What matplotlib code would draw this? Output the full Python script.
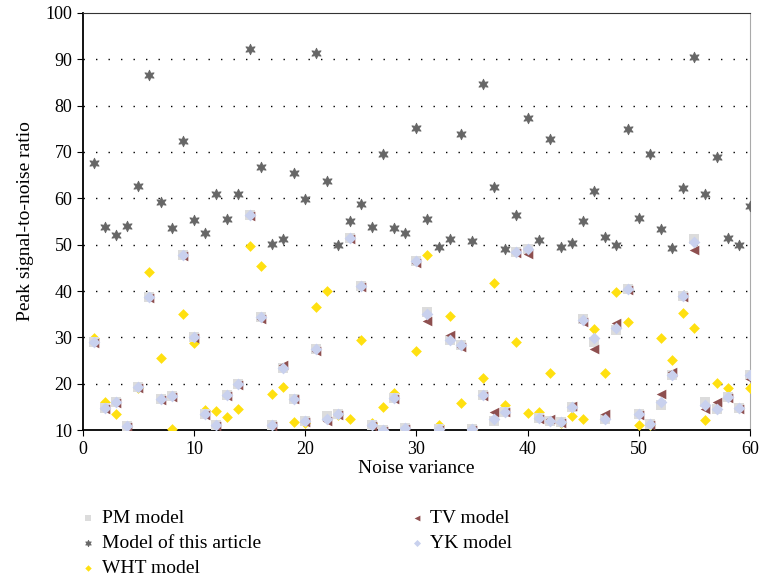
import numpy as np
import matplotlib
matplotlib.use("Agg")
from matplotlib import pyplot as plt

plt.rcParams['font.family'] = ['Liberation Serif', 'DejaVu Serif']

# noise variance 1..60
x = np.arange(1, 61)

# Model of this article
ours = [67.5, 53.8, 52.0, 54.0, 62.7, 86.5, 59.3, 53.5, 72.3, 55.3,
        52.6, 61.0, 55.5, 61.0, 92.3, 66.7, 50.2, 51.2, 65.5, 59.8,
        91.3, 63.7, 50.0, 55.0, 58.7, 53.7, 69.6, 53.6, 52.5, 75.2,
        55.5, 49.5, 51.3, 73.9, 50.8, 84.7, 62.4, 49.0, 56.3, 77.3,
        50.9, 72.8, 49.4, 50.4, 55.0, 61.5, 51.6, 49.9, 75.0, 55.8,
        69.5, 53.3, 49.2, 62.3, 90.5, 61.0, 68.8, 51.5, 50.0, 58.4]

wht = [29.8, 16.0, 13.5, 10.8, 19.0, 44.2, 25.5, 10.3, 35.0, 28.8,
       14.3, 14.2, 12.8, 14.5, 49.8, 45.3, 17.8, 19.3, 11.7, 11.5,
       36.5, 40.0, 13.3, 12.3, 29.5, 11.5, 14.9, 18.0, 10.5, 27.0,
       47.8, 11.2, 34.7, 15.8, 10.0, 21.2, 41.8, 15.5, 29.0, 13.7,
       13.8, 22.3, 11.6, 13.0, 12.5, 31.8, 22.3, 39.7, 33.3, 11.2,
       11.2, 29.8, 25.2, 35.3, 32.0, 12.2, 20.2, 19.0, 14.8, 19.0]

yk = [29.0, 14.7, 16.0, 10.8, 19.2, 38.7, 16.7, 17.3, 47.8, 30.0,
      13.4, 11.0, 17.5, 20.0, 56.3, 34.5, 11.0, 23.3, 16.8, 12.0,
      27.5, 12.5, 13.5, 51.5, 41.0, 11.0, 10.0, 17.0, 10.5, 46.5,
      35.0, 10.2, 29.5, 28.3, 10.2, 17.5, 12.5, 14.0, 48.5, 49.0,
      12.7, 12.0, 11.7, 14.9, 33.8, 29.8, 12.5, 32.0, 40.4, 13.5,
      11.3, 16.0, 21.8, 39.0, 50.5, 15.5, 14.5, 17.2, 14.8, 21.8]

tv = [28.8, 14.5, 15.8, 10.6, 19.0, 38.5, 16.5, 17.1, 47.6, 29.8,
      13.2, 10.8, 17.3, 19.8, 56.1, 34.0, 10.8, 24.0, 16.6, 11.8,
      27.0, 12.0, 13.3, 51.3, 40.8, 10.8, 9.9, 16.8, 10.3, 46.0,
      33.5, 10.0, 30.5, 28.0, 10.0, 17.3, 14.0, 13.8, 48.3, 48.0,
      12.5, 12.5, 11.5, 15.3, 33.3, 27.5, 13.5, 33.2, 40.2, 13.3,
      11.1, 17.8, 22.5, 38.8, 48.8, 14.5, 16.0, 17.0, 14.6, 21.0]

pm = [29.0, 14.7, 16.0, 10.8, 19.2, 38.7, 16.7, 17.3, 47.8, 30.0,
      13.4, 11.0, 17.5, 20.0, 56.3, 34.5, 11.0, 23.3, 16.8, 12.0,
      27.5, 13.0, 13.5, 51.5, 41.0, 11.0, 10.0, 17.0, 10.5, 46.5,
      35.5, 10.2, 29.5, 28.3, 10.2, 17.5, 12.0, 14.0, 48.5, 49.0,
      12.7, 12.0, 11.7, 14.9, 34.0, 29.0, 12.5, 31.5, 40.4, 13.5,
      11.3, 15.5, 21.8, 39.0, 51.3, 16.0, 14.5, 17.2, 14.8, 21.8]

fig = plt.figure(figsize=(7.59, 5.82), dpi=100)
ax = fig.add_axes([0.109, 0.261, 0.879, 0.717])

ax.scatter(x, wht, marker="D", s=30, c="#FFE010", linewidths=0, zorder=3, label="WHT model")
ax.scatter(x, pm, marker="s", s=42, c="#DCDCDC", linewidths=0, zorder=4, label="PM model")
ax.scatter(x, tv, marker="<", s=48, c="#8E4F4F", linewidths=0, zorder=5, label="TV model")
ax.scatter(x, yk, marker="D", s=36, c="#C9D1EE", linewidths=0, zorder=6, label="YK model")
ax.scatter(x, ours, marker=(6, 1, 0), s=58, c="#666666", linewidths=0.6,
           edgecolors="#666666", zorder=7, label="Model of this article")

ax.set_xlim(0, 60)
ax.set_ylim(10, 100)
ax.set_xticks(range(0, 61, 10))
ax.set_yticks(range(10, 101, 10))
ax.tick_params(labelsize=13, direction="out", length=4)
for yy in range(20, 100, 10):
    ax.axhline(yy, color="black", lw=1, ls=(0, (1, 8)), zorder=1)
ax.spines["left"].set_linewidth(1.3)
ax.spines["bottom"].set_linewidth(1.3)
ax.spines["top"].set_color("#333333")
ax.spines["right"].set_color("#aaaaaa")

ax.set_xlabel("Noise variance", fontsize=14, labelpad=2)
ax.set_ylabel("Peak signal-to-noise ratio", fontsize=14, labelpad=8)

h, l = ax.get_legend_handles_labels()
order = ["PM model", "Model of this article", "WHT model", "TV model", "YK model"]
hs = [h[l.index(o)] for o in order]
fig.legend(hs, order, ncol=2, loc="upper left", bbox_to_anchor=(0.0935, 0.142),
           frameon=False, fontsize=14, markerscale=0.6, handlelength=0.8,
           handletextpad=0.3, labelspacing=0.38, columnspacing=7.6, borderpad=0)

fig.savefig("out.png", dpi=100)
